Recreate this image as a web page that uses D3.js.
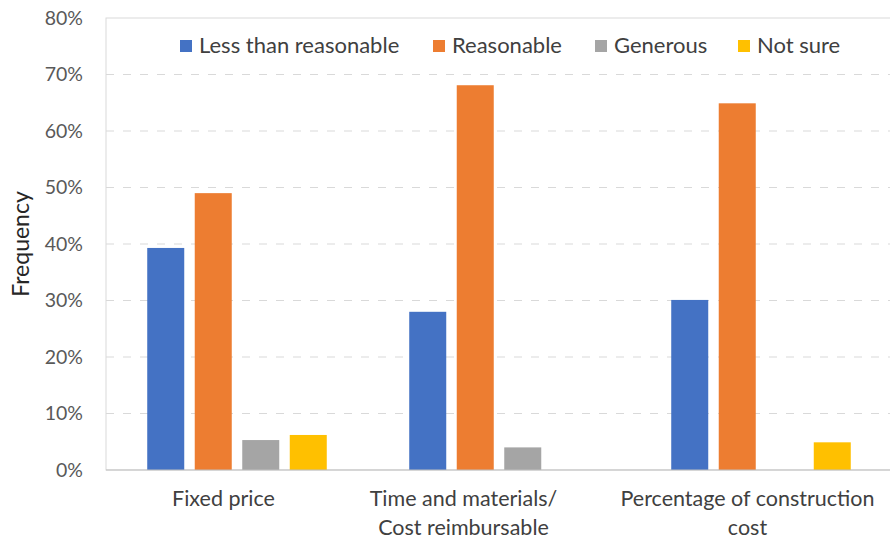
<!DOCTYPE html>
<html>
<head>
<meta charset="utf-8">
<script src="https://cdn.jsdelivr.net/npm/d3@7"></script>
<style>
  html, body { margin: 0; padding: 0; background: #fff; }
  svg { display: block; font-family: "Lato", "Open Sans", sans-serif; }
</style>
</head>
<body>
<svg id="chart" width="890" height="542"></svg>
<script>
// Contract types on the x axis (each entry is the label split into lines)
const categories = ["Fixed price", "Time and materials/ Cost reimbursable", "Percentage of construction cost"];
const categoryLines = [["Fixed price"], ["Time and materials/", "Cost reimbursable"], ["Percentage of construction", "cost"]];

// Response options
const seriesNames = ["Less than reasonable", "Reasonable", "Generous", "Not sure"];
const seriesColors = ["#4472C4", "#ED7D31", "#A5A5A5", "#FFC000"];

// Share of respondents per contract type (fractions)
const lessThanReasonable = [0.393, 0.280, 0.301];
const reasonable = [0.490, 0.681, 0.649];
const generous = [0.053, 0.040, 0.000];
const notSure = [0.062, 0.000, 0.049];

const yTicks = [0, 0.1, 0.2, 0.3, 0.4, 0.5, 0.6, 0.7, 0.8];

const seriesValues = [lessThanReasonable, reasonable, generous, notSure];

const svg = d3.select("#chart");
const plot = { left: 106, right: 892, top: 18, bottom: 470 };

const x0 = d3.scaleBand().domain(categories).range([plot.left, plot.right]).padding(0);
const x1 = d3.scaleBand().domain(seriesNames).range([0, x0.bandwidth()])
  .paddingInner(0.221).paddingOuter(0.868);
const y = d3.scaleLinear().domain([0, 0.8]).range([plot.bottom, plot.top]);
const color = d3.scaleOrdinal().domain(seriesNames).range(seriesColors);

// Horizontal dashed gridlines
svg.append("g")
  .selectAll("line")
  .data(yTicks.filter(t => t > 0 && t < 0.8))
  .join("line")
  .attr("x1", plot.left).attr("x2", plot.right)
  .attr("y1", d => y(d)).attr("y2", d => y(d))
  .attr("stroke", "#d9d9d9").attr("stroke-width", 1)
  .attr("stroke-dasharray", "8,9");

// Plot area border
svg.append("rect")
  .attr("x", plot.left).attr("y", plot.top)
  .attr("width", plot.right - plot.left).attr("height", plot.bottom - plot.top)
  .attr("fill", "none").attr("stroke", "#d9d9d9").attr("stroke-width", 1);

// Bars
const rows = categories.map((c, i) => ({
  category: c,
  values: seriesNames.map((s, j) => ({ series: s, value: seriesValues[j][i] }))
}));

svg.append("g")
  .selectAll("g")
  .data(rows)
  .join("g")
  .attr("transform", d => `translate(${x0(d.category)},0)`)
  .selectAll("rect")
  .data(d => d.values.filter(v => v.value > 0))
  .join("rect")
  .attr("x", d => x1(d.series))
  .attr("width", x1.bandwidth())
  .attr("y", d => y(d.value))
  .attr("height", d => y(0) - y(d.value))
  .attr("fill", d => color(d.series));

// X axis baseline
svg.append("line")
  .attr("x1", plot.left).attr("x2", plot.right)
  .attr("y1", y(0)).attr("y2", y(0))
  .attr("stroke", "#bfbfbf").attr("stroke-width", 1);

// Y axis tick labels
const yAxis = d3.axisLeft(y).tickValues(yTicks).tickFormat(d3.format(".0%")).tickSize(0).tickPadding(23);
const yg = svg.append("g").attr("transform", `translate(${plot.left},0)`).call(yAxis);
yg.select(".domain").remove();
yg.selectAll("text").attr("font-size", 19.5).attr("fill", "#595959")
  .attr("font-family", "Lato, 'Open Sans', sans-serif");

// Y axis title
svg.append("text")
  .attr("transform", `translate(29,${(plot.top + plot.bottom) / 2}) rotate(-90)`)
  .attr("text-anchor", "middle")
  .attr("font-size", 23).attr("fill", "#262626")
  .text("Frequency");

// Category labels (wrapped text boxes sit a little left of the bar groups)
const labelShift = [-13.5, -35.5, -13.5];
const cat = svg.append("g").selectAll("text")
  .data(categories)
  .join("text")
  .attr("text-anchor", "middle")
  .attr("font-size", 21.5).attr("fill", "#404040")
  .attr("x", (d, i) => x0(d) + x0.bandwidth() / 2 + labelShift[i])
  .attr("y", 506);
cat.selectAll("tspan")
  .data((d, i) => categoryLines[i])
  .join("tspan")
  .attr("x", function () { return d3.select(this.parentNode).attr("x"); })
  .attr("dy", (d, i) => i === 0 ? 0 : 29)
  .text(d => d);

// Legend
const legendX = [180, 433, 595, 738];
const lg = svg.append("g").selectAll("g")
  .data(seriesNames)
  .join("g")
  .attr("transform", (d, i) => `translate(${legendX[i]},40)`);
lg.append("rect").attr("width", 12).attr("height", 12).attr("fill", d => color(d));
lg.append("text").attr("x", 19).attr("y", 13)
  .attr("font-size", 22).attr("fill", "#404040")
  .text(d => d);
</script>
</body>
</html>
